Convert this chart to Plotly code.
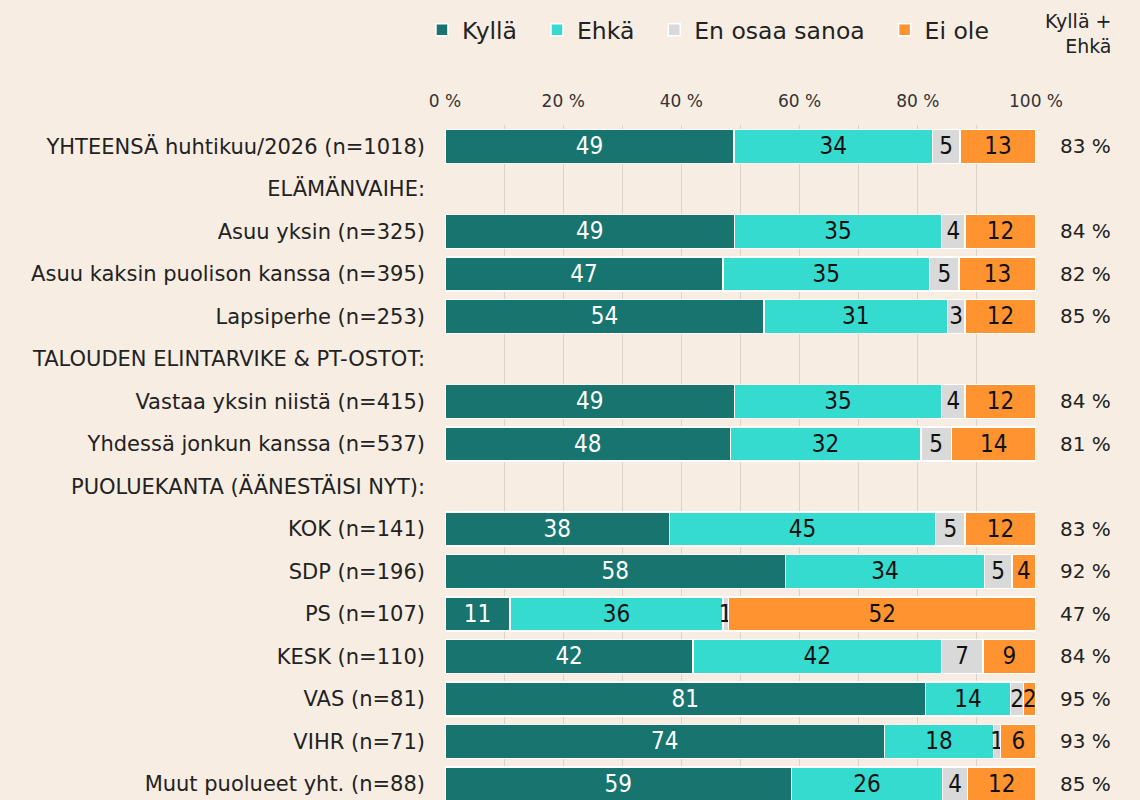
import plotly.graph_objects as go

categories = [
    "YHTEENSÄ huhtikuu/2026 (n=1018)",
    "ELÄMÄNVAIHE:",
    "Asuu yksin (n=325)",
    "Asuu kaksin puolison kanssa (n=395)",
    "Lapsiperhe (n=253)",
    "TALOUDEN ELINTARVIKE & PT-OSTOT:",
    "Vastaa yksin niistä (n=415)",
    "Yhdessä jonkun kanssa (n=537)",
    "PUOLUEKANTA (ÄÄNESTÄISI NYT):",
    "KOK (n=141)",
    "SDP (n=196)",
    "PS (n=107)",
    "KESK (n=110)",
    "VAS (n=81)",
    "VIHR (n=71)",
    "Muut puolueet yht. (n=88)",
]

kylla = [48.9, None, 49, 47, 54, None, 49, 48.3, None, 38, 57.6, 11, 42, 81.3, 74.4, 58.6]
ehka = [33.6, None, 35, 35, 31, None, 35, 32.2, None, 45, 33.7, 36, 42, 14.4, 18.4, 25.6]
eos = [4.6, None, 4, 5, 3, None, 4, 5.2, None, 5, 4.6, 1, 7, 2.2, 1.2, 4.2]
ei_ole = [12.9, None, 12, 13, 12, None, 12, 14.3, None, 12, 4.1, 52, 9, 2.1, 6.0, 11.6]
kylla_ehka = [83, None, 84, 82, 85, None, 84, 81, None, 83, 92, 47, 84, 95, 93, 85]

series_names = ["Kyllä", "Ehkä", "En osaa sanoa", "Ei ole"]
series_values = [kylla, ehka, eos, ei_ole]
colors = ["#18746e", "#36dbd0", "#d9d9d9", "#ff9330"]
text_colors = ["#ffffff", "#111111", "#111111", "#111111"]

x_ticks = [0, 20, 40, 60, 80, 100]
x_tick_labels = ["0 %", "20 %", "40 %", "60 %", "80 %", "100 %"]

BG = "#f7ede3"
LABEL_FONT = "'DejaVu Sans', sans-serif"
BAR_FONT = "'Liberation Sans Narrow', 'DejaVu Sans Condensed', sans-serif"
LEGEND_PAD = "\u00a0\u00a0"

fig = go.Figure()
for name, vals, col, tcol in zip(series_names, series_values, colors, text_colors):
    fig.add_trace(go.Bar(
        name=name + LEGEND_PAD,
        y=categories,
        x=vals,
        orientation="h",
        marker=dict(color=col, line=dict(color="#ffffff", width=1.5)),
        text=[None if v is None else f"{v:.0f}" for v in vals],
        texttemplate="%{text}",
        textposition="inside",
        insidetextanchor="middle",
        textangle=0,
        constraintext="none",
        textfont=dict(family=BAR_FONT, size=24, color=tcol),
        hoverinfo="skip",
    ))

annotations = []
for cat, v in zip(categories, kylla_ehka):
    if v is None:
        continue
    annotations.append(dict(
        xref="paper", yref="y", x=1.083, y=cat,
        text=f"{v} %", showarrow=False, xanchor="center", yanchor="middle",
        font=dict(family=LABEL_FONT, size=20, color="#222222"),
    ))
annotations.append(dict(
    xref="paper", yref="paper", x=1.13, y=1.1356,
    text="Kyllä +<br>Ehkä", showarrow=False, xanchor="right", yanchor="middle",
    align="right",
    font=dict(family=LABEL_FONT, size=19, color="#222222"),
))

fig.update_layout(
    width=1140, height=800,
    barmode="stack",
    bargap=0.2,
    paper_bgcolor=BG,
    plot_bgcolor=BG,
    margin=dict(l=445, r=104, t=125, b=0, autoexpand=False),
    showlegend=True,
    legend=dict(
        orientation="h", x=-0.039, xanchor="left", y=1.1407, yanchor="middle",
        font=dict(family=LABEL_FONT, size=23.5, color="#222222"),
        bgcolor="rgba(0,0,0,0)", traceorder="normal",
    ),
    xaxis=dict(
        side="top", range=[0, 100], tickmode="array", tickvals=x_ticks,
        ticktext=x_tick_labels,
        showgrid=True, gridcolor="#d8d3cb", gridwidth=1,
        minor=dict(dtick=10, showgrid=True, gridcolor="#d8d3cb", gridwidth=1),
        zeroline=False, showline=False, ticks="",
        ticklabelstandoff=14, automargin=False,
        tickfont=dict(family=LABEL_FONT, size=17, color="#333333"),
        fixedrange=True,
    ),
    yaxis=dict(
        categoryorder="array", categoryarray=categories,
        range=[15.38, -0.5],
        showgrid=False, zeroline=False, showline=False, ticks="",
        ticklabelstandoff=19, automargin=False,
        tickfont=dict(family=LABEL_FONT, size=21, color="#222222"),
        fixedrange=True,
    ),
    annotations=annotations,
)

fig.write_html(
    "out.html",
    config={"displayModeBar": False},
    post_script="document.body.style.margin='0';document.body.style.overflow='hidden';",
)
